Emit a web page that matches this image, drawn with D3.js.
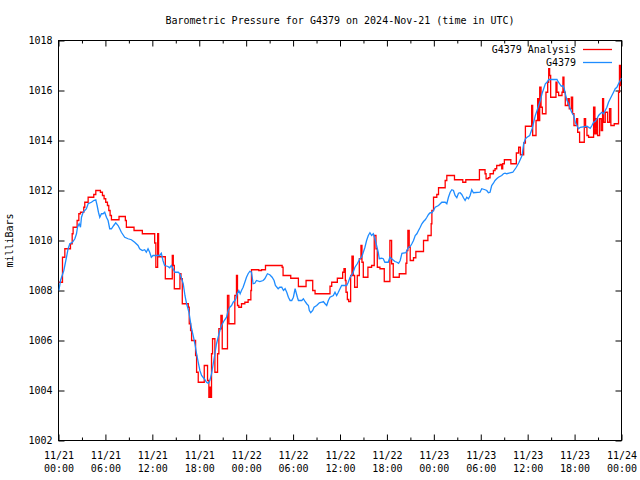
<!DOCTYPE html>
<html>
<head>
<meta charset="utf-8">
<script src="https://cdn.jsdelivr.net/npm/d3@7"></script>
<style>
  html, body { margin: 0; padding: 0; background: #fff; }
  svg { display: block; }
  text { font-family: "DejaVu Sans Mono", "Liberation Mono", monospace; font-size: 10px; fill: #000; }
</style>
</head>
<body>
<svg id="chart" width="640" height="480"></svg>
<script>
// ---------------- DATA ----------------
const chartTitle = "Barometric Pressure for G4379 on 2024-Nov-21 (time in UTC)";
const yAxisTitle = "milliBars";
const seriesNames = ["G4379 Analysis", "G4379"];
const yTicks = [1002, 1004, 1006, 1008, 1010, 1012, 1014, 1016, 1018];
const xTickHours = [0, 6, 12, 18, 24, 30, 36, 42, 48, 54, 60, 66, 72];
const xTickDates = ["11/21", "11/21", "11/21", "11/21", "11/22", "11/22", "11/22", "11/22", "11/23", "11/23", "11/23", "11/23", "11/24"];
const xTickTimes = ["00:00", "06:00", "12:00", "18:00", "00:00", "06:00", "12:00", "18:00", "00:00", "06:00", "12:00", "18:00", "00:00"];

// [hours since 11/21 00:00 UTC, millibars] — analysis (stepped)
const analysisSeries = [
[0,1008.33],[0.51,1009.33],[0.81,1009.67],[1.53,1009.87],[1.75,1010.27],[1.87,1010.53],[2.38,1010.8],[2.6,1011.07],[2.81,1011.13],[3.23,1011.33],[3.36,1011.53],[3.79,1011.73],[4.51,1011.84],[4.77,1012.0],[5.36,1011.93],[5.62,1011.8],[5.83,1011.67],[6.04,1011.53],[6.26,1011.4],[6.43,1011.2],[6.6,1011.0],[6.77,1010.83],[7.74,1010.96],[8.55,1010.8],[8.68,1010.53],[9.66,1010.4],[10.72,1010.27],[12.3,1009.9],[12.45,1008.93],[12.68,1010.27],[12.8,1009.35],[13.66,1008.47],[14.55,1009.4],[14.68,1009.0],[14.81,1008.07],[15.53,1008.67],[15.66,1008.47],[15.83,1007.47],[16.6,1007.33],[16.72,1006.67],[16.89,1006.4],[17.02,1006.0],[17.53,1005.4],[17.66,1004.73],[17.87,1004.33],[18.64,1005.0],[19.06,1004.4],[19.23,1003.73],[19.4,1004.13],[19.49,1003.73],[19.57,1005.47],[19.7,1006.07],[20.0,1004.73],[20.34,1005.47],[20.51,1006.47],[20.77,1007.0],[20.94,1005.67],[21.61,1007.8],[21.79,1006.67],[22.55,1007.8],[22.76,1008.6],[22.89,1007.4],[23.06,1007.33],[23.4,1007.47],[23.83,1007.53],[24.25,1007.63],[24.6,1008.0],[24.68,1008.83],[25.61,1008.8],[25.96,1008.83],[26.47,1009.0],[28.6,1008.93],[28.72,1008.6],[29.7,1008.49],[30.68,1008.16],[31.66,1008.4],[32.51,1008.0],[32.81,1007.87],[34.72,1008.17],[34.94,1008.33],[35.66,1008.49],[36.34,1008.73],[36.51,1008.87],[36.68,1008.4],[36.77,1007.93],[36.94,1007.64],[37.11,1007.56],[37.36,1008.6],[37.53,1009.37],[37.7,1008.6],[37.87,1008.13],[38.21,1008.6],[38.47,1009.27],[38.68,1009.8],[38.81,1009.13],[38.98,1008.53],[39.57,1008.93],[40.04,1009.0],[40.38,1010.2],[40.6,1009.67],[40.77,1008.93],[41.11,1008.87],[41.66,1008.36],[42.38,1010.0],[42.6,1009.07],[42.81,1008.53],[43.58,1008.67],[44.43,1009.09],[44.55,1009.6],[44.68,1010.4],[44.85,1009.73],[44.98,1009.2],[45.4,1009.31],[45.7,1009.56],[46.68,1010.0],[47.24,1010.2],[47.66,1010.67],[47.75,1011.2],[47.96,1011.73],[48.38,1011.84],[48.6,1012.11],[49.45,1012.4],[49.66,1012.6],[50.64,1012.43],[51.7,1012.33],[52.09,1012.43],[53.83,1012.83],[54.55,1012.67],[54.68,1012.47],[54.98,1012.51],[55.19,1012.67],[55.62,1012.8],[55.83,1012.87],[56.04,1013.0],[56.47,1013.04],[56.68,1012.87],[56.81,1013.07],[57.02,1013.23],[57.85,1013.07],[58.55,1013.5],[58.85,1013.73],[59.07,1013.43],[59.49,1013.9],[59.71,1014.57],[60.51,1015.4],[60.64,1014.2],[61.07,1014.8],[61.28,1015.67],[61.41,1014.8],[61.54,1016.13],[61.71,1015.33],[61.88,1015.07],[62.34,1015.93],[62.56,1016.33],[62.69,1016.87],[62.81,1016.6],[62.94,1015.73],[63.62,1016.33],[63.75,1015.93],[63.96,1015.8],[64.39,1015.93],[64.51,1016.53],[64.64,1015.93],[64.81,1015.4],[65.15,1015.67],[65.32,1015.27],[65.58,1015.73],[65.75,1015.07],[65.92,1014.6],[66.26,1014.87],[66.39,1014.33],[66.64,1013.93],[67.24,1014.87],[67.41,1014.53],[67.58,1014.2],[67.79,1014.13],[68.43,1015.33],[68.6,1014.27],[68.77,1014.87],[68.94,1014.2],[69.2,1014.87],[69.41,1014.4],[69.58,1015.67],[69.71,1014.73],[69.92,1015.13],[70.22,1014.73],[70.47,1015.27],[70.64,1014.6],[71.07,1014.67],[71.62,1015.93],[71.74,1017.0],[71.85,1016.2],[72,1016.2]
];

// [hours since 11/21 00:00 UTC, millibars] — station observations
const observedSeries = [
[0.05,1008.0],[0.26,1008.4],[0.68,1008.8],[1.02,1009.33],[1.23,1009.67],[1.45,1009.87],[1.79,1009.93],[2.09,1010.07],[2.3,1010.27],[2.43,1010.53],[2.64,1010.67],[2.81,1010.53],[2.94,1010.93],[3.15,1011.13],[3.57,1011.27],[3.79,1011.47],[4.21,1011.53],[4.51,1011.6],[4.77,1011.63],[4.94,1011.4],[5.11,1011.13],[5.28,1010.93],[5.49,1011.07],[5.7,1011.07],[5.91,1011.13],[6.13,1010.93],[6.34,1010.8],[6.55,1010.47],[6.77,1010.47],[7.06,1010.6],[7.32,1010.71],[7.62,1010.6],[7.83,1010.47],[8.04,1010.33],[8.47,1010.13],[8.89,1010.07],[9.32,1010.03],[9.74,1009.93],[10.17,1009.8],[10.38,1009.67],[10.72,1009.6],[11.02,1009.63],[11.23,1009.53],[11.45,1009.67],[11.66,1009.53],[11.87,1009.33],[12.09,1009.4],[12.94,1009.4],[13.15,1009.49],[13.36,1009.2],[13.57,1009.0],[14.0,1008.96],[14.21,1008.91],[14.43,1009.0],
[14.89,1008.73],[15.32,1008.73],[15.53,1008.67],[15.74,1008.47],[15.95,1008.27],[16.08,1008.0],[16.17,1007.8],[16.38,1007.47],[16.51,1007.33],[16.68,1007.13],[16.85,1006.8],[17.02,1006.47],[17.27,1006.13],[17.44,1005.87],[17.66,1005.47],[17.87,1005.13],[18.08,1004.8],[18.3,1004.6],[18.64,1004.47],[18.93,1004.33],[19.15,1004.29],[19.36,1004.4],[19.57,1004.67],[19.79,1005.07],[20.0,1005.47],[20.21,1005.87],[20.42,1006.13],[20.64,1006.4],[20.85,1006.6],[21.19,1006.8],[21.49,1006.93],[21.7,1007.2],[21.91,1007.33],[22.13,1007.4],[22.34,1007.53],[22.55,1007.6],[22.68,1007.67],[22.85,1007.87],[23.06,1008.0],[23.23,1007.87],[23.4,1008.0],[23.61,1008.13],[23.83,1008.33],[24.04,1008.53],[24.25,1008.67],[24.47,1008.77],[24.68,1008.73],[24.89,1008.27],[25.1,1008.29],[25.32,1008.4],[25.74,1008.36],[26.17,1008.4],[26.38,1008.47],[26.72,1008.67],[27.02,1008.63],[27.32,1008.53],[27.57,1008.4],[27.74,1008.2],[28.09,1008.07],[28.3,1008.13],
[28.55,1008.13],[28.77,1008.0],[28.98,1008.07],[29.19,1007.93],[29.4,1007.73],[29.62,1007.6],[29.83,1007.6],[30.04,1007.73],[30.26,1008.07],[30.38,1007.93],[30.55,1007.73],[30.68,1007.6],[31.11,1007.6],[31.32,1007.67],[31.53,1007.56],[31.74,1007.47],[31.96,1007.4],[32.08,1007.2],[32.26,1007.11],[32.51,1007.2],[32.68,1007.33],[33.02,1007.4],[33.36,1007.51],[33.66,1007.53],[33.87,1007.56],[34.09,1007.47],[34.3,1007.4],[34.51,1007.6],[34.72,1007.73],[35.15,1007.8],[35.36,1007.93],[35.57,1007.8],[35.79,1007.93],[36.0,1008.07],[36.21,1008.2],[36.85,1008.2],[37.06,1008.33],[37.28,1008.53],[37.62,1008.67],[37.91,1008.93],[38.21,1009.07],[38.55,1009.27],[38.77,1009.33],[38.98,1009.53],[39.19,1009.73],[39.4,1010.0],[39.62,1010.2],[39.83,1010.31],[40.04,1010.2],[40.26,1010.27],[40.47,1010.07],[40.68,1009.8],[40.89,1009.53],[41.02,1009.27],[41.32,1009.29],[41.53,1009.27],[41.74,1009.13],[42.17,1009.13],[42.38,1009.33],[42.6,1009.27],[43.02,1009.16],
[43.28,1009.13],[43.49,1009.09],[43.7,1009.2],[43.92,1009.49],[44.43,1009.51],[44.55,1009.6],[44.77,1009.73],[44.98,1009.76],[45.19,1009.87],[45.4,1010.0],[45.62,1010.2],[45.83,1010.27],[46.04,1010.4],[46.26,1010.53],[46.47,1010.67],[46.68,1010.76],[46.9,1010.83],[47.11,1010.93],[47.32,1011.04],[47.53,1011.11],[47.75,1011.11],[47.96,1011.2],[48.17,1011.33],[48.6,1011.4],[49.02,1011.53],[49.45,1011.53],[49.66,1011.47],[49.87,1011.73],[50.09,1011.93],[50.3,1012.03],[50.51,1012.0],[50.72,1011.8],[50.94,1011.71],[51.15,1011.89],[51.36,1011.91],[51.57,1011.84],[51.79,1011.71],[52.0,1011.6],[52.21,1011.73],[52.43,1011.67],[52.64,1011.8],[52.85,1012.03],[53.06,1011.91],[53.91,1011.93],[54.13,1012.07],[54.55,1012.03],[54.77,1012.0],[54.98,1011.91],[55.19,1011.93],[55.4,1012.2],[55.62,1012.29],[55.83,1012.4],[56.04,1012.47],[56.26,1012.53],[56.68,1012.6],[56.9,1012.67],[57.11,1012.69],[57.32,1012.67],[58.1,1012.73],[58.55,1012.93],[58.9,1013.13],
[59.28,1013.4],[59.49,1013.87],[59.71,1014.07],[59.92,1014.13],[60.26,1014.2],[60.56,1014.47],[60.77,1014.73],[60.98,1015.0],[61.2,1015.2],[61.41,1015.4],[61.62,1015.6],[61.83,1015.87],[62.05,1016.07],[62.26,1016.27],[62.47,1016.33],[62.69,1016.44],[63.75,1016.44],[63.88,1016.36],[64.09,1016.27],[64.3,1016.17],[64.51,1016.2],[64.68,1016.07],[64.81,1015.87],[65.03,1015.6],[65.24,1015.47],[65.45,1015.27],[65.66,1015.11],[65.88,1015.0],[66.09,1014.73],[66.3,1014.6],[66.51,1014.47],[66.73,1014.53],[67.58,1014.57],[68.0,1014.49],[68.22,1014.6],[68.43,1014.73],[68.64,1014.76],[68.86,1014.87],[69.07,1015.0],[69.28,1015.07],[69.49,1015.13],[69.71,1015.07],[69.92,1015.2],[70.13,1015.33],[70.34,1015.53],[70.56,1015.67],[70.77,1015.8],[70.98,1015.93],[71.2,1016.07],[71.41,1016.13],[71.62,1016.27],[71.83,1016.4],[72,1016.5]
];

const seriesColors = ["#ff0000", "#1e8cff"];

// ---------------- LAYOUT ----------------
const margin = { left: 58.5, right: 621.5, top: 40.5, bottom: 440.5 };
const svg = d3.select("#chart");

const x = d3.scaleLinear().domain([0, 72]).range([margin.left, margin.right]);
const y = d3.scaleLinear().domain([1002, 1018]).range([margin.bottom, margin.top]);

// Title
svg.append("text")
  .attr("x", (margin.left + margin.right) / 2)
  .attr("y", 24)
  .attr("text-anchor", "middle")
  .text(chartTitle);

// Y axis title
svg.append("text")
  .attr("transform", `translate(13,${(margin.top + margin.bottom) / 2}) rotate(-90)`)
  .attr("text-anchor", "middle")
  .text(yAxisTitle);

const minorHours = d3.range(3, 72, 6);

function styleAxis(g) {
  g.select(".domain").remove();
  g.selectAll(".tick line").attr("stroke", "#000").attr("stroke-width", 1);
  g.selectAll(".tick text").attr("font-family", null).attr("font-size", null);
}

// Bottom axis (major with labels)
const gBottom = svg.append("g")
  .attr("transform", `translate(0,${margin.bottom})`)
  .call(d3.axisBottom(x).tickValues(xTickHours).tickSizeInner(-6).tickSizeOuter(0).tickPadding(10).tickFormat(() => ""))
  .call(styleAxis);
gBottom.selectAll(".tick text").each(function (d, i) {
  const t = d3.select(this);
  t.attr("y", 0).attr("dy", null);
  t.append("tspan").attr("x", 0).attr("y", 18).text(xTickDates[i]);
  t.append("tspan").attr("x", 0).attr("y", 31).text(xTickTimes[i]);
});
// Bottom minor
svg.append("g")
  .attr("transform", `translate(0,${margin.bottom})`)
  .call(d3.axisBottom(x).tickValues(minorHours).tickSizeInner(-3).tickSizeOuter(0).tickFormat(() => ""))
  .call(styleAxis);
// Top mirror
svg.append("g")
  .attr("transform", `translate(0,${margin.top})`)
  .call(d3.axisTop(x).tickValues(xTickHours).tickSizeInner(-6).tickSizeOuter(0).tickFormat(() => ""))
  .call(styleAxis);
svg.append("g")
  .attr("transform", `translate(0,${margin.top})`)
  .call(d3.axisTop(x).tickValues(minorHours).tickSizeInner(-3).tickSizeOuter(0).tickFormat(() => ""))
  .call(styleAxis);

// Left axis
svg.append("g")
  .attr("transform", `translate(${margin.left},0)`)
  .call(d3.axisLeft(y).tickValues(yTicks).tickSizeInner(-6).tickSizeOuter(0).tickPadding(6).tickFormat(d3.format("d")))
  .call(styleAxis);
// Right mirror
svg.append("g")
  .attr("transform", `translate(${margin.right},0)`)
  .call(d3.axisRight(y).tickValues(yTicks).tickSizeInner(-6).tickSizeOuter(0).tickFormat(() => ""))
  .call(styleAxis);

// Border
svg.append("rect")
  .attr("x", margin.left).attr("y", margin.top)
  .attr("width", margin.right - margin.left)
  .attr("height", margin.bottom - margin.top)
  .attr("fill", "none").attr("stroke", "#000").attr("stroke-width", 1);

// Clip
svg.append("clipPath").attr("id", "plotclip")
  .append("rect")
  .attr("x", margin.left).attr("y", margin.top)
  .attr("width", margin.right - margin.left)
  .attr("height", margin.bottom - margin.top);

const plot = svg.append("g").attr("clip-path", "url(#plotclip)");

const stepLine = d3.line().x(d => x(d[0])).y(d => y(d[1])).curve(d3.curveStepAfter);
const obsLine = d3.line().x(d => x(d[0])).y(d => y(d[1]));

plot.append("path")
  .datum(analysisSeries)
  .attr("d", stepLine)
  .attr("fill", "none")
  .attr("stroke", seriesColors[0])
  .attr("stroke-width", 1.3);

plot.append("path")
  .datum(observedSeries)
  .attr("d", obsLine)
  .attr("fill", "none")
  .attr("stroke", seriesColors[1])
  .attr("stroke-width", 1.3);

// Legend
const legend = svg.append("g");
seriesNames.forEach((name, i) => {
  const ly = 53 + i * 13;
  legend.append("text")
    .attr("x", 576).attr("y", ly)
    .attr("text-anchor", "end")
    .text(name);
  legend.append("line")
    .attr("x1", 583).attr("x2", 612)
    .attr("y1", ly - 3.5).attr("y2", ly - 3.5)
    .attr("stroke", seriesColors[i]).attr("stroke-width", 1.3);
});
</script>
</body>
</html>
